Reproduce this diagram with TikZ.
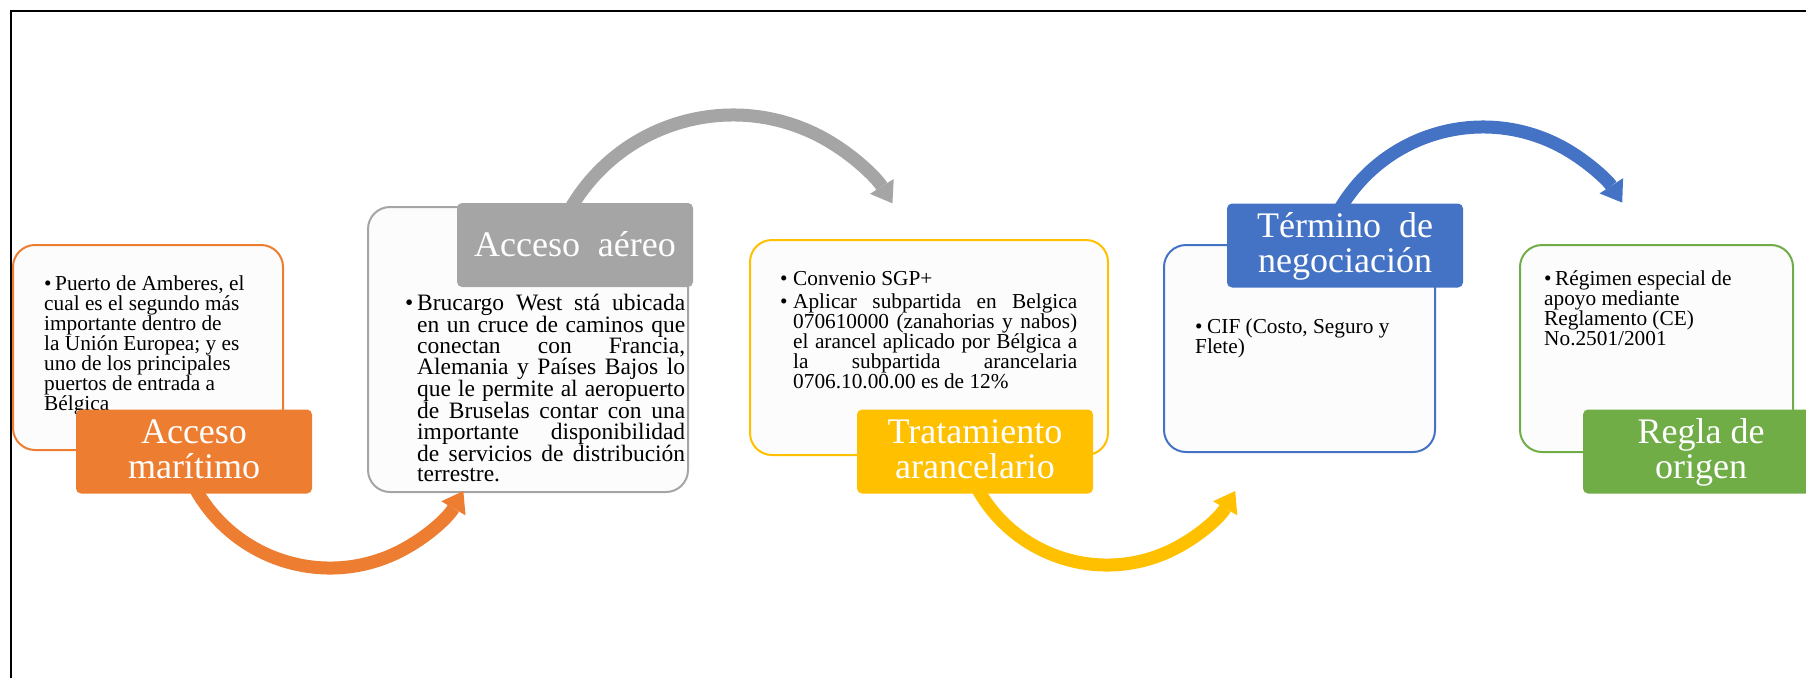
\documentclass[tikz,border=0pt]{standalone}
\usepackage{fontspec}
\setmainfont{Liberation Serif}
\usetikzlibrary{arrows.meta}
\definecolor{cOr}{HTML}{ED7D31}
\definecolor{cGr}{HTML}{A5A5A5}
\definecolor{cYe}{HTML}{FFC000}
\definecolor{cBl}{HTML}{4472C4}
\definecolor{cGn}{HTML}{70AD47}
\definecolor{cFill}{HTML}{FCFCFC}
\newcommand{\bodyA}{\fontsize{21.3pt}{20pt}\selectfont}
\newcommand{\bodyB}{\fontsize{23.5pt}{20.2pt}\selectfont}
\newcommand{\labfont}{\fontsize{36pt}{35pt}\selectfont}
\newcommand{\mybul}[1]{\hangindent=#1\hangafter=1\noindent\makebox[#1][l]{•}}
\tikzset{
  cont/.style={draw=#1, line width=2pt, fill=cFill, rounded corners=22pt, inner sep=0pt},
  lab/.style={fill=#1, rounded corners=5pt, minimum width=236pt, minimum height=84pt, inner sep=0pt},
  labtxt/.style={text=white, inner sep=0pt, anchor=base},
  bodytxt/.style={inner sep=0pt, anchor=base west, text=black},
  flow/.style={draw=#1, line width=13pt, -{Triangle[length=20pt,width=28pt,line width=0pt]}}
}
\begin{document}
\begin{tikzpicture}[x=1pt,y=-1pt]
\useasboundingbox (0,0) rectangle (1806,678);
% frame
\draw[line width=2pt] (11,678) -- (11,11) -- (1806,11);

% containers
\node[cont=cOr, minimum width=270pt, minimum height=205pt] (b1) at (148,347.5) {};
\node[cont=cGr, minimum width=320pt, minimum height=285pt] (b2) at (528,349.5) {};
\node[cont=cYe, minimum width=358pt, minimum height=215pt] (b3) at (929,347.5) {};
\node[cont=cBl, minimum width=271pt, minimum height=207pt] (b4) at (1299.5,348.5) {};
\node[cont=cGn, minimum width=273pt, minimum height=207pt] (b5) at (1656.5,348.5) {};

% body texts
\node[bodytxt] (t1) at (44,290) {\parbox[t]{232pt}{\bodyA\raggedright
\mybul{11pt}Puerto de Amberes, el\\cual es el segundo más\\importante dentro de\\la Unión Europea; y es\\uno de los principales\\puertos de entrada a\\Bélgica}};

\node[bodytxt] (t2) at (405,310) {\parbox[t]{280pt}{\bodyB\tolerance=10000\hyphenpenalty=10000
\mybul{12pt}Brucargo West stá ubicada\linebreak en un cruce de caminos que\linebreak conectan con Francia,\linebreak Alemania y Países Bajos lo\linebreak que le permite al aeropuerto\linebreak de Bruselas contar con una\linebreak importante disponibilidad\linebreak de servicios de distribución\linebreak terrestre.}};

\node[bodytxt] (t3) at (780,285) {\parbox[t]{297pt}{\bodyA\tolerance=10000\hyphenpenalty=10000
\mybul{13pt}Convenio SGP+\par\vspace{3pt}
\mybul{13pt}Aplicar subpartida en Belgica\linebreak 070610000 (zanahorias y nabos)\linebreak el arancel aplicado por Bélgica a\linebreak la subpartida arancelaria\linebreak 0706.10.00.00 es de 12\%}};

\node[bodytxt] (t4) at (1195,333) {\parbox[t]{230pt}{\bodyA\raggedright
\mybul{12pt}CIF (Costo, Seguro y\\Flete)}};

\node[bodytxt] (t5) at (1544,285) {\parbox[t]{230pt}{\bodyA\raggedright
\mybul{11pt}Régimen especial de\\apoyo mediante\\Reglamento (CE)\\No.2501/2001}};

% arc centres
\coordinate (c1) at (330,414);
\coordinate (c2) at (733,303);
\coordinate (c3) at (1107,417);
\coordinate (c4) at (1483,293);

% connectors
\draw[flow=cOr] (c1) ++(205:154pt) arc[start angle=205, end angle=330, radius=154pt];
\draw[flow=cGr] (c2) ++(150:188pt) arc[start angle=150, end angle=32, radius=188pt];
\draw[flow=cYe] (c3) ++(205:148pt) arc[start angle=205, end angle=330, radius=148pt];
\draw[flow=cBl] (c4) ++(150:166pt) arc[start angle=150, end angle=33, radius=166pt];

% labels
\node[lab=cOr] (l1) at (194,451.5) {};
\node[lab=cGr] (l2) at (575,245) {};
\node[lab=cYe] (l3) at (975,451.5) {};
\node[lab=cBl] (l4) at (1345,245.5) {};
\node[lab=cGn] (l5) at (1701,451.5) {};

\node[labtxt] (lt1) at (194,443) {\parbox[t]{236pt}{\centering\labfont Acceso\\marítimo}};
\node[labtxt] (lt2) at (575,256) {\parbox[t]{236pt}{\centering\labfont Acceso\ \ aéreo}};
\node[labtxt] (lt3) at (975,443) {\parbox[t]{236pt}{\centering\labfont Tratamiento\\arancelario}};
\node[labtxt] (lt4) at (1345,237) {\parbox[t]{236pt}{\centering\labfont Término\ \ de\\negociación}};
\node[labtxt] (lt5) at (1701,443) {\parbox[t]{236pt}{\centering\labfont Regla de\\origen}};
\end{tikzpicture}
\end{document}
